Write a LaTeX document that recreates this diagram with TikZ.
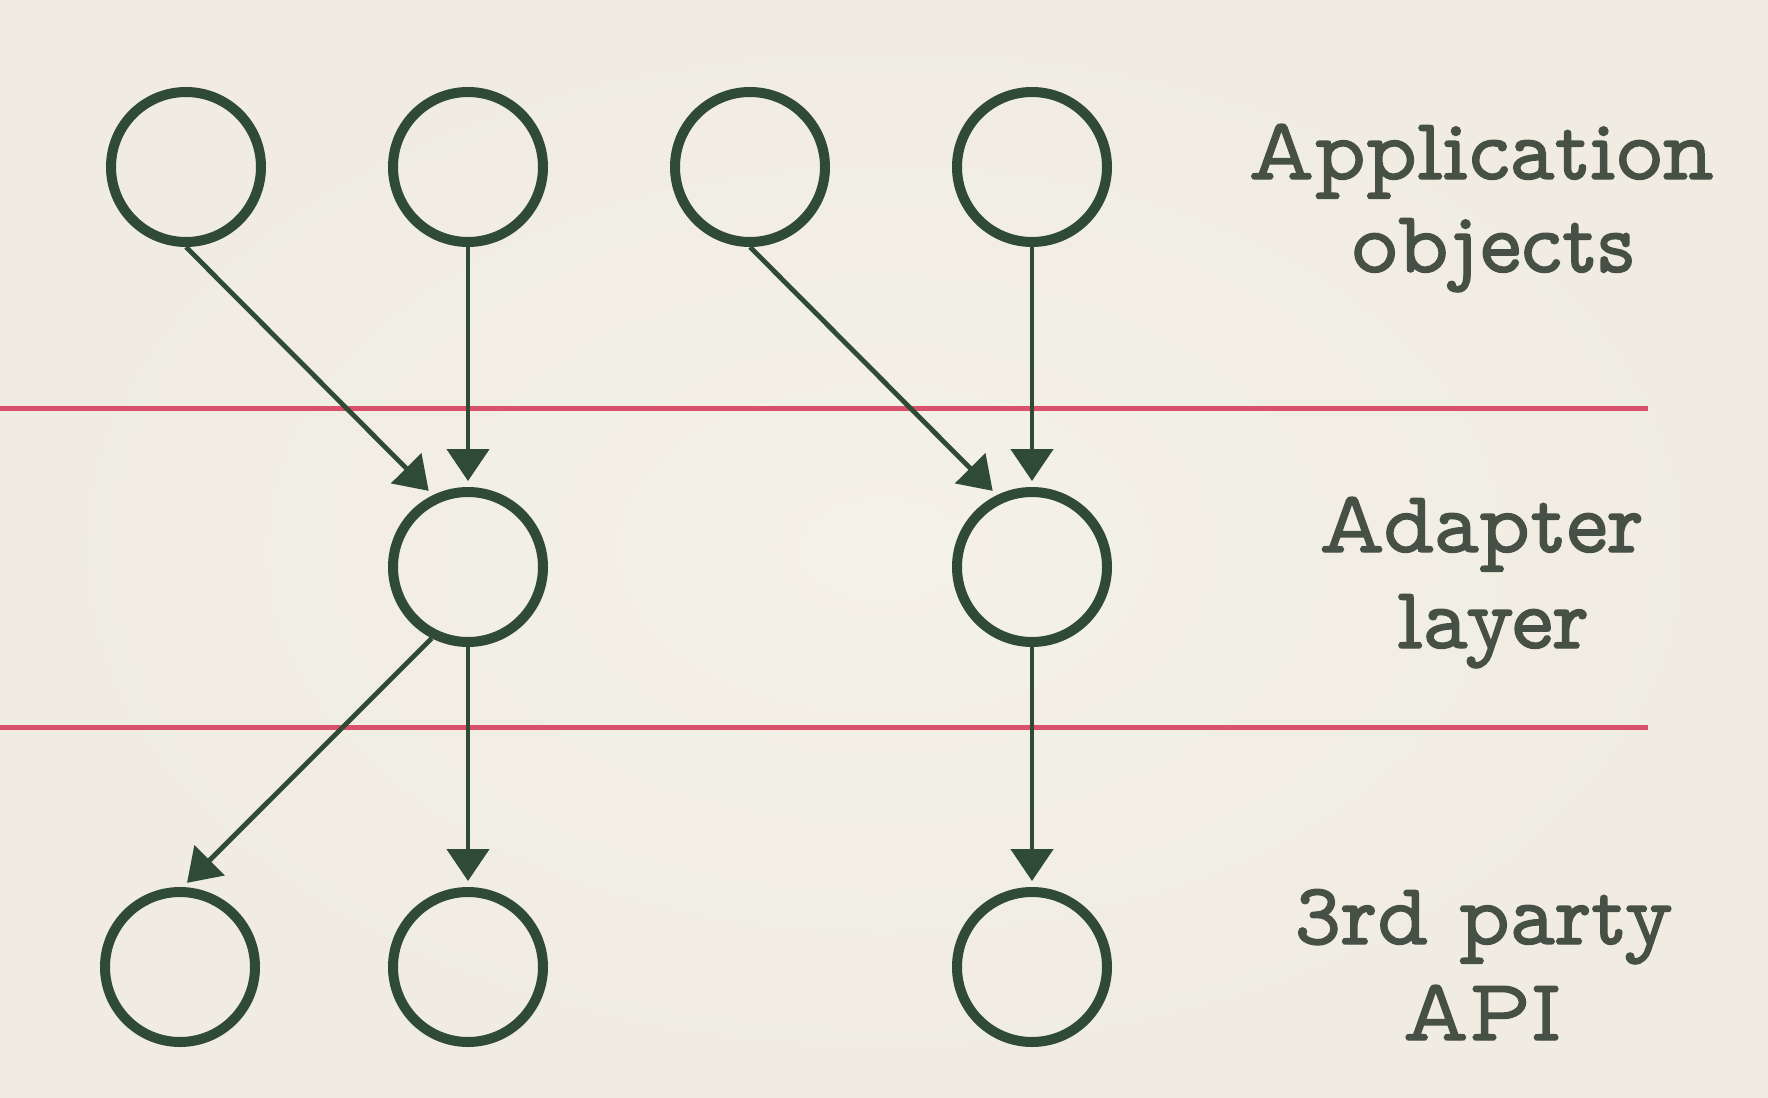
\documentclass[tikz,border=0pt]{standalone}
\usepackage{fontspec}
\newfontfamily\twfont{Latin Modern Mono Prop}[FakeBold=1.6]
\usetikzlibrary{arrows.meta}
\definecolor{bg}{HTML}{F0ECE1}
\definecolor{bgc}{HTML}{F4F1E8}
\definecolor{cgreen}{HTML}{2F4A35}
\definecolor{tgreen}{HTML}{475045}
\definecolor{redline}{HTML}{D9506A}
\begin{document}
\begin{tikzpicture}[x=0.5pt,y=-0.5pt,
  obj/.style={circle,draw=cgreen,line width=5pt,minimum size=75pt,inner sep=0pt},
  conn/.style={draw=cgreen,line width=2.4pt,-{Triangle[width=21pt,length=16pt]},shorten >=3pt},
  sep/.style={draw=redline,line width=2.5pt},
  lbl/.style={anchor=base,text=tgreen,font=\twfont\bfseries\fontsize{44}{47}\selectfont,inner sep=0pt}]
\useasboundingbox (0,0) rectangle (1768,1098);
\fill[inner color=bgc,outer color=bg] (0,0) rectangle (1768,1098);
% layer separators
\coordinate (r1a) at (0,408);
\coordinate (r1b) at (1648,408);
\coordinate (r2a) at (0,727);
\coordinate (r2b) at (1648,727);
\draw[sep] (r1a) -- (r1b);
\draw[sep] (r2a) -- (r2b);
% application objects
\node[obj] (top1) at (186,167) {};
\node[obj] (top2) at (468,167) {};
\node[obj] (top3) at (750,167) {};
\node[obj] (top4) at (1032,167) {};
% adapter layer
\node[obj] (mid1) at (468,567) {};
\node[obj] (mid2) at (1032,567) {};
% 3rd party API
\node[obj] (bot1) at (180,967) {};
\node[obj] (bot2) at (468,967) {};
\node[obj] (bot3) at (1032,967) {};
% connectors
\draw[conn] (top1.south) -- (mid1.116);
\draw[conn] (top2.south) -- (mid1.north);
\draw[conn] (top3.south) -- (mid2.116);
\draw[conn] (top4.south) -- (mid2.north);
\draw[conn] (mid1.243) -- (bot1.88);
\draw[conn] (mid1.south) -- (bot2.north);
\draw[conn] (mid2.south) -- (bot3.north);
% labels
\node[lbl] (l1a) at (1481,179) {Application};
\node[lbl] (l1b) at (1493,272) {objects};
\node[lbl] (l2a) at (1481,552) {Adapter};
\node[lbl] (l2b) at (1493,648) {layer};
\node[lbl] (l3a) at (1484,944) {3rd party};
\node[lbl] (l3b) at (1482,1040) {API};
\end{tikzpicture}
\end{document}
